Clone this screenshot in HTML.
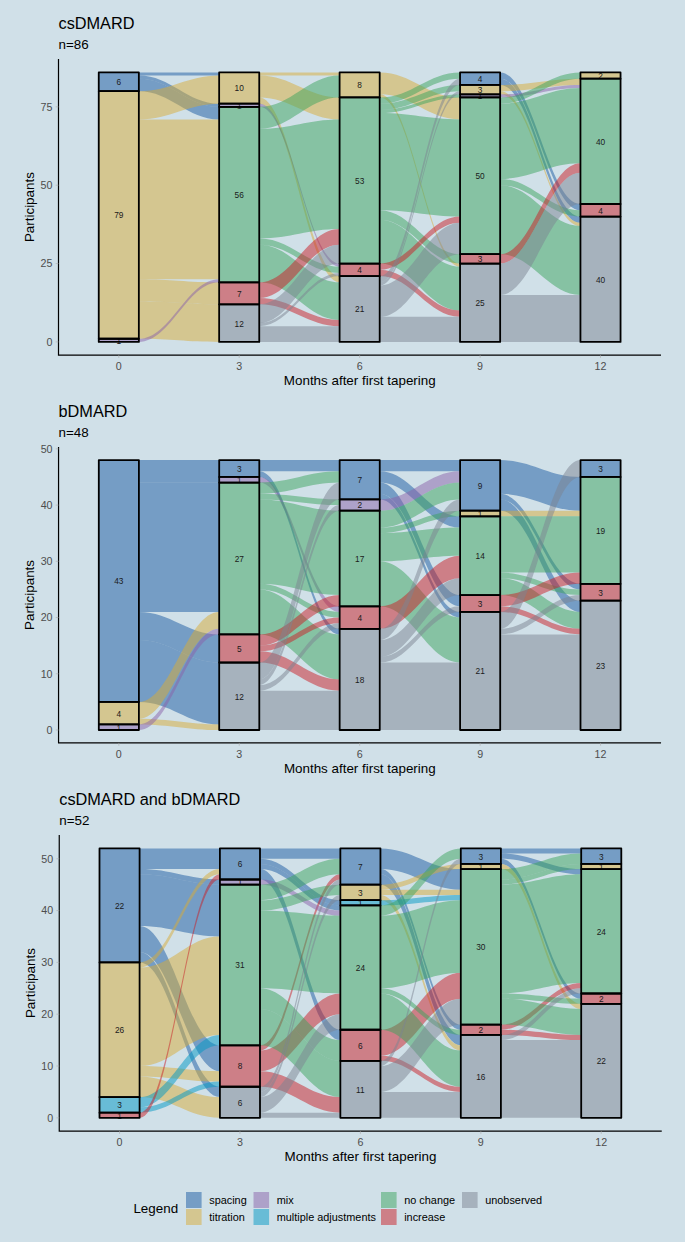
<!DOCTYPE html>
<html><head><meta charset="utf-8"><title>Alluvial</title>
<style>html,body{margin:0;padding:0;background:#d0e0e8;}body{width:685px;height:1242px;overflow:hidden;font-family:"Liberation Sans",sans-serif;}svg{display:block;}</style>
</head><body>
<svg width="685" height="1242" viewBox="0 0 685 1242">
<rect width="685" height="1242" fill="#d0e0e8"/>
<g fill-opacity="0.5"><path fill="#1a5aa2" d="M138.85,72.38C170.97,72.38 187.03,72.38 219.15,72.38L219.15,75.51C187.03,75.51 170.97,75.51 138.85,75.51Z"/><path fill="#1a5aa2" d="M138.85,75.51C170.97,75.51 187.03,103.72 219.15,103.72L219.15,106.85C187.03,106.85 170.97,78.64 138.85,78.64Z"/><path fill="#1a5aa2" d="M138.85,78.64C170.97,78.64 187.03,106.85 219.15,106.85L219.15,119.39C187.03,119.39 170.97,91.18 138.85,91.18Z"/><path fill="#d8ac38" d="M138.85,91.18C170.97,91.18 187.03,75.51 219.15,75.51L219.15,103.72C187.03,103.72 170.97,119.39 138.85,119.39Z"/><path fill="#d8ac38" d="M138.85,119.39C170.97,119.39 187.03,119.39 219.15,119.39L219.15,279.22C187.03,279.22 170.97,279.22 138.85,279.22Z"/><path fill="#d8ac38" d="M138.85,279.22C170.97,279.22 187.03,282.35 219.15,282.35L219.15,304.29C187.03,304.29 170.97,301.16 138.85,301.16Z"/><path fill="#d8ac38" d="M138.85,301.16C170.97,301.16 187.03,304.29 219.15,304.29L219.15,341.9C187.03,341.9 170.97,338.77 138.85,338.77Z"/><path fill="#8a62aa" d="M138.85,338.77C170.97,338.77 187.03,279.22 219.15,279.22L219.15,282.35C187.03,282.35 170.97,341.9 138.85,341.9Z"/><path fill="#d8ac38" d="M259.25,72.38C291.39,72.38 307.46,72.38 339.6,72.38L339.6,75.51C307.46,75.51 291.39,75.51 259.25,75.51Z"/><path fill="#d8ac38" d="M259.25,75.51C291.39,75.51 307.46,97.45 339.6,97.45L339.6,119.39C307.46,119.39 291.39,97.45 259.25,97.45Z"/><path fill="#d8ac38" d="M259.25,97.45C291.39,97.45 307.46,276.09 339.6,276.09L339.6,282.35C307.46,282.35 291.39,103.72 259.25,103.72Z"/><path fill="#8a62aa" d="M259.25,103.72C291.39,103.72 307.46,263.55 339.6,263.55L339.6,266.68C307.46,266.68 291.39,106.85 259.25,106.85Z"/><path fill="#3ca45e" d="M259.25,106.85C291.39,106.85 307.46,75.51 339.6,75.51L339.6,97.45C307.46,97.45 291.39,128.79 259.25,128.79Z"/><path fill="#3ca45e" d="M259.25,128.79C291.39,128.79 307.46,119.39 339.6,119.39L339.6,229.08C307.46,229.08 291.39,238.48 259.25,238.48Z"/><path fill="#3ca45e" d="M259.25,238.48C291.39,238.48 307.46,266.68 339.6,266.68L339.6,272.95C307.46,272.95 291.39,244.75 259.25,244.75Z"/><path fill="#3ca45e" d="M259.25,244.75C291.39,244.75 307.46,282.35 339.6,282.35L339.6,319.96C307.46,319.96 291.39,282.35 259.25,282.35Z"/><path fill="#ca1e26" d="M259.25,282.35C291.39,282.35 307.46,229.08 339.6,229.08L339.6,244.75C307.46,244.75 291.39,298.02 259.25,298.02Z"/><path fill="#ca1e26" d="M259.25,298.02C291.39,298.02 307.46,319.96 339.6,319.96L339.6,326.23C307.46,326.23 291.39,304.29 259.25,304.29Z"/><path fill="#7c8492" d="M259.25,304.29C291.39,304.29 307.46,244.75 339.6,244.75L339.6,263.55C307.46,263.55 291.39,323.1 259.25,323.1Z"/><path fill="#7c8492" d="M259.25,323.1C291.39,323.1 307.46,272.95 339.6,272.95L339.6,276.09C307.46,276.09 291.39,326.23 259.25,326.23Z"/><path fill="#7c8492" d="M259.25,326.23C291.39,326.23 307.46,326.23 339.6,326.23L339.6,341.9C307.46,341.9 291.39,341.9 259.25,341.9Z"/><path fill="#d8ac38" d="M379.7,72.38C411.84,72.38 427.91,97.45 460.05,97.45L460.05,119.39C427.91,119.39 411.84,94.31 379.7,94.31Z"/><path fill="#d8ac38" d="M379.7,94.31C411.84,94.31 427.91,263.55 460.05,263.55L460.05,266.68C427.91,266.68 411.84,97.45 379.7,97.45Z"/><path fill="#3ca45e" d="M379.7,97.45C411.84,97.45 427.91,72.38 460.05,72.38L460.05,78.64C427.91,78.64 411.84,103.72 379.7,103.72Z"/><path fill="#3ca45e" d="M379.7,103.72C411.84,103.72 427.91,84.91 460.05,84.91L460.05,91.18C427.91,91.18 411.84,109.98 379.7,109.98Z"/><path fill="#3ca45e" d="M379.7,109.98C411.84,109.98 427.91,94.31 460.05,94.31L460.05,97.45C427.91,97.45 411.84,113.12 379.7,113.12Z"/><path fill="#3ca45e" d="M379.7,113.12C411.84,113.12 427.91,119.39 460.05,119.39L460.05,216.54C427.91,216.54 411.84,210.27 379.7,210.27Z"/><path fill="#3ca45e" d="M379.7,210.27C411.84,210.27 427.91,254.15 460.05,254.15L460.05,263.55C427.91,263.55 411.84,219.67 379.7,219.67Z"/><path fill="#3ca45e" d="M379.7,219.67C411.84,219.67 427.91,266.68 460.05,266.68L460.05,310.56C427.91,310.56 411.84,263.55 379.7,263.55Z"/><path fill="#ca1e26" d="M379.7,263.55C411.84,263.55 427.91,216.54 460.05,216.54L460.05,222.81C427.91,222.81 411.84,269.82 379.7,269.82Z"/><path fill="#ca1e26" d="M379.7,269.82C411.84,269.82 427.91,310.56 460.05,310.56L460.05,316.83C427.91,316.83 411.84,276.09 379.7,276.09Z"/><path fill="#7c8492" d="M379.7,276.09C411.84,276.09 427.91,78.64 460.05,78.64L460.05,84.91C427.91,84.91 411.84,282.35 379.7,282.35Z"/><path fill="#7c8492" d="M379.7,282.35C411.84,282.35 427.91,91.18 460.05,91.18L460.05,94.31C427.91,94.31 411.84,285.49 379.7,285.49Z"/><path fill="#7c8492" d="M379.7,285.49C411.84,285.49 427.91,222.81 460.05,222.81L460.05,254.15C427.91,254.15 411.84,316.83 379.7,316.83Z"/><path fill="#7c8492" d="M379.7,316.83C411.84,316.83 427.91,316.83 460.05,316.83L460.05,341.9C427.91,341.9 411.84,341.9 379.7,341.9Z"/><path fill="#1a5aa2" d="M500.15,72.38C532.27,72.38 548.33,204 580.45,204L580.45,210.27C548.33,210.27 532.27,78.64 500.15,78.64Z"/><path fill="#1a5aa2" d="M500.15,78.64C532.27,78.64 548.33,216.54 580.45,216.54L580.45,222.81C548.33,222.81 532.27,84.91 500.15,84.91Z"/><path fill="#d8ac38" d="M500.15,84.91C532.27,84.91 548.33,78.64 580.45,78.64L580.45,84.91C548.33,84.91 532.27,91.18 500.15,91.18Z"/><path fill="#d8ac38" d="M500.15,91.18C532.27,91.18 548.33,222.81 580.45,222.81L580.45,225.94C548.33,225.94 532.27,94.31 500.15,94.31Z"/><path fill="#8a62aa" d="M500.15,94.31C532.27,94.31 548.33,84.91 580.45,84.91L580.45,88.05C548.33,88.05 532.27,97.45 500.15,97.45Z"/><path fill="#3ca45e" d="M500.15,97.45C532.27,97.45 548.33,72.38 580.45,72.38L580.45,78.64C548.33,78.64 532.27,103.72 500.15,103.72Z"/><path fill="#3ca45e" d="M500.15,103.72C532.27,103.72 548.33,88.05 580.45,88.05L580.45,163.26C548.33,163.26 532.27,178.93 500.15,178.93Z"/><path fill="#3ca45e" d="M500.15,178.93C532.27,178.93 548.33,210.27 580.45,210.27L580.45,216.54C548.33,216.54 532.27,185.2 500.15,185.2Z"/><path fill="#3ca45e" d="M500.15,185.2C532.27,185.2 548.33,225.94 580.45,225.94L580.45,294.89C548.33,294.89 532.27,254.15 500.15,254.15Z"/><path fill="#ca1e26" d="M500.15,254.15C532.27,254.15 548.33,163.26 580.45,163.26L580.45,172.66C548.33,172.66 532.27,263.55 500.15,263.55Z"/><path fill="#7c8492" d="M500.15,263.55C532.27,263.55 548.33,172.66 580.45,172.66L580.45,204C548.33,204 532.27,294.89 500.15,294.89Z"/><path fill="#7c8492" d="M500.15,294.89C532.27,294.89 548.33,294.89 580.45,294.89L580.45,341.9C548.33,341.9 532.27,341.9 500.15,341.9Z"/></g>
<defs><clipPath id="c0_0_M"><rect x="98.75" y="338.77" width="40.1" height="5.13"/></clipPath><clipPath id="c0_1_M"><rect x="219.15" y="103.72" width="40.1" height="5.13"/></clipPath><clipPath id="c0_3_M"><rect x="460.05" y="94.31" width="40.1" height="5.13"/></clipPath></defs>
<g><rect x="98.75" y="72.38" width="40.1" height="18.8" fill="#759dc5"/><rect x="98.75" y="91.18" width="40.1" height="247.59" fill="#d4c690"/><rect x="98.75" y="338.77" width="40.1" height="3.13" fill="#ada1c9"/><rect x="219.15" y="72.38" width="40.1" height="31.34" fill="#d4c690"/><rect x="219.15" y="103.72" width="40.1" height="3.13" fill="#ada1c9"/><rect x="219.15" y="106.85" width="40.1" height="175.5" fill="#86c2a3"/><rect x="219.15" y="282.35" width="40.1" height="21.94" fill="#cd7f87"/><rect x="219.15" y="304.29" width="40.1" height="37.61" fill="#a6b2bd"/><rect x="339.6" y="72.38" width="40.1" height="25.07" fill="#d4c690"/><rect x="339.6" y="97.45" width="40.1" height="166.1" fill="#86c2a3"/><rect x="339.6" y="263.55" width="40.1" height="12.54" fill="#cd7f87"/><rect x="339.6" y="276.09" width="40.1" height="65.81" fill="#a6b2bd"/><rect x="460.05" y="72.38" width="40.1" height="12.54" fill="#759dc5"/><rect x="460.05" y="84.91" width="40.1" height="9.4" fill="#d4c690"/><rect x="460.05" y="94.31" width="40.1" height="3.13" fill="#ada1c9"/><rect x="460.05" y="97.45" width="40.1" height="156.7" fill="#86c2a3"/><rect x="460.05" y="254.15" width="40.1" height="9.4" fill="#cd7f87"/><rect x="460.05" y="263.55" width="40.1" height="78.35" fill="#a6b2bd"/><rect x="580.45" y="72.38" width="40.1" height="6.27" fill="#d4c690"/><rect x="580.45" y="78.64" width="40.1" height="125.36" fill="#86c2a3"/><rect x="580.45" y="204" width="40.1" height="12.54" fill="#cd7f87"/><rect x="580.45" y="216.54" width="40.1" height="125.36" fill="#a6b2bd"/></g>
<g font-family="Liberation Sans, sans-serif" font-size="8.3" fill="#1a1a1a" text-anchor="middle"><text x="118.8" y="85.18">6</text><text x="118.8" y="218.37">79</text><text x="118.8" y="343.73" clip-path="url(#c0_0_M)">1</text><text x="239.2" y="91.45">10</text><text x="239.2" y="108.68" clip-path="url(#c0_1_M)">1</text><text x="239.2" y="198">56</text><text x="239.2" y="296.72">7</text><text x="239.2" y="326.5">12</text><text x="359.65" y="88.31">8</text><text x="359.65" y="183.9">53</text><text x="359.65" y="273.22">4</text><text x="359.65" y="312.39">21</text><text x="480.1" y="82.04">4</text><text x="480.1" y="93.01">3</text><text x="480.1" y="99.28" clip-path="url(#c0_3_M)">1</text><text x="480.1" y="179.2">50</text><text x="480.1" y="262.25">3</text><text x="480.1" y="306.12">25</text><text x="600.5" y="78.91">2</text><text x="600.5" y="144.72">40</text><text x="600.5" y="213.67">4</text><text x="600.5" y="282.62">40</text></g>
<g stroke="#000" stroke-width="1.8" stroke-linejoin="round" fill="none"><rect x="98.75" y="72.38" width="40.1" height="18.8"/><rect x="98.75" y="91.18" width="40.1" height="247.59"/><rect x="98.75" y="338.77" width="40.1" height="3.13"/><rect x="219.15" y="72.38" width="40.1" height="31.34"/><rect x="219.15" y="103.72" width="40.1" height="3.13"/><rect x="219.15" y="106.85" width="40.1" height="175.5"/><rect x="219.15" y="282.35" width="40.1" height="21.94"/><rect x="219.15" y="304.29" width="40.1" height="37.61"/><rect x="339.6" y="72.38" width="40.1" height="25.07"/><rect x="339.6" y="97.45" width="40.1" height="166.1"/><rect x="339.6" y="263.55" width="40.1" height="12.54"/><rect x="339.6" y="276.09" width="40.1" height="65.81"/><rect x="460.05" y="72.38" width="40.1" height="12.54"/><rect x="460.05" y="84.91" width="40.1" height="9.4"/><rect x="460.05" y="94.31" width="40.1" height="3.13"/><rect x="460.05" y="97.45" width="40.1" height="156.7"/><rect x="460.05" y="254.15" width="40.1" height="9.4"/><rect x="460.05" y="263.55" width="40.1" height="78.35"/><rect x="580.45" y="72.38" width="40.1" height="6.27"/><rect x="580.45" y="78.64" width="40.1" height="125.36"/><rect x="580.45" y="204" width="40.1" height="12.54"/><rect x="580.45" y="216.54" width="40.1" height="125.36"/></g>
<path d="M58.5,59.1V355.1H661" fill="none" stroke="#000" stroke-width="1.2"/>
<path d="M55.7,341.9H58.5M55.7,263.55H58.5M55.7,185.2H58.5M55.7,106.85H58.5M118.8,355.1V357.9M239.2,355.1V357.9M359.65,355.1V357.9M480.1,355.1V357.9M600.5,355.1V357.9" stroke="#aaa" stroke-width="0.6"/>
<g font-family="Liberation Sans, sans-serif" font-size="10.7" fill="#4d4d4d"><text x="52.5" y="345.8" text-anchor="end">0</text><text x="52.5" y="267.45" text-anchor="end">25</text><text x="52.5" y="189.1" text-anchor="end">50</text><text x="52.5" y="110.75" text-anchor="end">75</text><text x="118.8" y="369.9" text-anchor="middle">0</text><text x="239.2" y="369.9" text-anchor="middle">3</text><text x="359.65" y="369.9" text-anchor="middle">6</text><text x="480.1" y="369.9" text-anchor="middle">9</text><text x="600.5" y="369.9" text-anchor="middle">12</text></g>
<text font-family="Liberation Sans, sans-serif" font-size="13.4" fill="#000" x="359.75" y="384.7" text-anchor="middle">Months after first tapering</text>
<text font-family="Liberation Sans, sans-serif" font-size="13.4" fill="#000" transform="translate(34,207.1) rotate(-90)" text-anchor="middle">Participants</text>
<text font-family="Liberation Sans, sans-serif" font-size="16.3" fill="#000" x="58.5" y="29">csDMARD</text>
<text font-family="Liberation Sans, sans-serif" font-size="13.4" fill="#000" x="58.5" y="49.4">n=86</text>
<g fill-opacity="0.5"><path fill="#1a5aa2" d="M138.9,460.1C171.02,460.1 187.08,460.1 219.2,460.1L219.2,476.97C187.08,476.97 171.02,476.97 138.9,476.97Z"/><path fill="#1a5aa2" d="M138.9,476.97C171.02,476.97 187.08,476.97 219.2,476.97L219.2,482.59C187.08,482.59 171.02,482.59 138.9,482.59Z"/><path fill="#1a5aa2" d="M138.9,482.59C171.02,482.59 187.08,482.59 219.2,482.59L219.2,611.92C187.08,611.92 171.02,611.92 138.9,611.92Z"/><path fill="#1a5aa2" d="M138.9,611.92C171.02,611.92 187.08,634.41 219.2,634.41L219.2,662.52C187.08,662.52 171.02,640.03 138.9,640.03Z"/><path fill="#1a5aa2" d="M138.9,640.03C171.02,640.03 187.08,662.52 219.2,662.52L219.2,724.38C187.08,724.38 171.02,701.88 138.9,701.88Z"/><path fill="#d8ac38" d="M138.9,701.88C171.02,701.88 187.08,611.92 219.2,611.92L219.2,628.79C187.08,628.79 171.02,718.75 138.9,718.75Z"/><path fill="#d8ac38" d="M138.9,718.75C171.02,718.75 187.08,724.38 219.2,724.38L219.2,730C187.08,730 171.02,724.38 138.9,724.38Z"/><path fill="#8a62aa" d="M138.9,724.38C171.02,724.38 187.08,628.79 219.2,628.79L219.2,634.41C187.08,634.41 171.02,730 138.9,730Z"/><path fill="#1a5aa2" d="M259.3,460.1C291.44,460.1 307.51,460.1 339.65,460.1L339.65,471.34C307.51,471.34 291.44,471.34 259.3,471.34Z"/><path fill="#1a5aa2" d="M259.3,471.34C291.44,471.34 307.51,628.79 339.65,628.79L339.65,634.41C307.51,634.41 291.44,476.97 259.3,476.97Z"/><path fill="#8a62aa" d="M259.3,476.97C291.44,476.97 307.51,606.29 339.65,606.29L339.65,611.92C307.51,611.92 291.44,482.59 259.3,482.59Z"/><path fill="#3ca45e" d="M259.3,482.59C291.44,482.59 307.51,471.34 339.65,471.34L339.65,482.59C307.51,482.59 291.44,493.83 259.3,493.83Z"/><path fill="#3ca45e" d="M259.3,493.83C291.44,493.83 307.51,499.46 339.65,499.46L339.65,505.08C307.51,505.08 291.44,499.46 259.3,499.46Z"/><path fill="#3ca45e" d="M259.3,499.46C291.44,499.46 307.51,510.7 339.65,510.7L339.65,595.05C307.51,595.05 291.44,583.8 259.3,583.8Z"/><path fill="#3ca45e" d="M259.3,583.8C291.44,583.8 307.51,611.92 339.65,611.92L339.65,617.54C307.51,617.54 291.44,589.42 259.3,589.42Z"/><path fill="#3ca45e" d="M259.3,589.42C291.44,589.42 307.51,634.41 339.65,634.41L339.65,679.39C307.51,679.39 291.44,634.41 259.3,634.41Z"/><path fill="#ca1e26" d="M259.3,634.41C291.44,634.41 307.51,595.05 339.65,595.05L339.65,606.29C307.51,606.29 291.44,645.65 259.3,645.65Z"/><path fill="#ca1e26" d="M259.3,645.65C291.44,645.65 307.51,617.54 339.65,617.54L339.65,623.16C307.51,623.16 291.44,651.28 259.3,651.28Z"/><path fill="#ca1e26" d="M259.3,651.28C291.44,651.28 307.51,679.39 339.65,679.39L339.65,690.64C307.51,690.64 291.44,662.52 259.3,662.52Z"/><path fill="#7c8492" d="M259.3,662.52C291.44,662.52 307.51,482.59 339.65,482.59L339.65,499.46C307.51,499.46 291.44,679.39 259.3,679.39Z"/><path fill="#7c8492" d="M259.3,679.39C291.44,679.39 307.51,505.08 339.65,505.08L339.65,510.7C307.51,510.7 291.44,685.02 259.3,685.02Z"/><path fill="#7c8492" d="M259.3,685.02C291.44,685.02 307.51,623.16 339.65,623.16L339.65,628.79C307.51,628.79 291.44,690.64 259.3,690.64Z"/><path fill="#7c8492" d="M259.3,690.64C291.44,690.64 307.51,690.64 339.65,690.64L339.65,730C307.51,730 291.44,730 259.3,730Z"/><path fill="#1a5aa2" d="M379.75,460.1C411.89,460.1 427.96,460.1 460.1,460.1L460.1,471.34C427.96,471.34 411.89,471.34 379.75,471.34Z"/><path fill="#1a5aa2" d="M379.75,471.34C411.89,471.34 427.96,516.33 460.1,516.33L460.1,527.57C427.96,527.57 411.89,482.59 379.75,482.59Z"/><path fill="#1a5aa2" d="M379.75,482.59C411.89,482.59 427.96,595.05 460.1,595.05L460.1,606.29C427.96,606.29 411.89,493.83 379.75,493.83Z"/><path fill="#1a5aa2" d="M379.75,493.83C411.89,493.83 427.96,611.92 460.1,611.92L460.1,617.54C427.96,617.54 411.89,499.46 379.75,499.46Z"/><path fill="#8a62aa" d="M379.75,499.46C411.89,499.46 427.96,471.34 460.1,471.34L460.1,482.59C427.96,482.59 411.89,510.7 379.75,510.7Z"/><path fill="#3ca45e" d="M379.75,510.7C411.89,510.7 427.96,482.59 460.1,482.59L460.1,499.46C427.96,499.46 411.89,527.57 379.75,527.57Z"/><path fill="#3ca45e" d="M379.75,527.57C411.89,527.57 427.96,510.7 460.1,510.7L460.1,516.33C427.96,516.33 411.89,533.19 379.75,533.19Z"/><path fill="#3ca45e" d="M379.75,533.19C411.89,533.19 427.96,527.57 460.1,527.57L460.1,555.69C427.96,555.69 411.89,561.31 379.75,561.31Z"/><path fill="#3ca45e" d="M379.75,561.31C411.89,561.31 427.96,617.54 460.1,617.54L460.1,662.52C427.96,662.52 411.89,606.29 379.75,606.29Z"/><path fill="#ca1e26" d="M379.75,606.29C411.89,606.29 427.96,555.69 460.1,555.69L460.1,578.18C427.96,578.18 411.89,628.79 379.75,628.79Z"/><path fill="#7c8492" d="M379.75,628.79C411.89,628.79 427.96,499.46 460.1,499.46L460.1,510.7C427.96,510.7 411.89,640.03 379.75,640.03Z"/><path fill="#7c8492" d="M379.75,640.03C411.89,640.03 427.96,578.18 460.1,578.18L460.1,595.05C427.96,595.05 411.89,656.9 379.75,656.9Z"/><path fill="#7c8492" d="M379.75,656.9C411.89,656.9 427.96,606.29 460.1,606.29L460.1,611.92C427.96,611.92 411.89,662.52 379.75,662.52Z"/><path fill="#7c8492" d="M379.75,662.52C411.89,662.52 427.96,662.52 460.1,662.52L460.1,730C427.96,730 411.89,730 379.75,730Z"/><path fill="#1a5aa2" d="M500.2,460.1C532.32,460.1 548.38,476.97 580.5,476.97L580.5,510.7C548.38,510.7 532.32,493.83 500.2,493.83Z"/><path fill="#1a5aa2" d="M500.2,493.83C532.32,493.83 548.38,583.8 580.5,583.8L580.5,589.42C548.38,589.42 532.32,499.46 500.2,499.46Z"/><path fill="#1a5aa2" d="M500.2,499.46C532.32,499.46 548.38,600.67 580.5,600.67L580.5,611.92C548.38,611.92 532.32,510.7 500.2,510.7Z"/><path fill="#d8ac38" d="M500.2,510.7C532.32,510.7 548.38,510.7 580.5,510.7L580.5,516.33C548.38,516.33 532.32,516.33 500.2,516.33Z"/><path fill="#3ca45e" d="M500.2,516.33C532.32,516.33 548.38,516.33 580.5,516.33L580.5,572.56C548.38,572.56 532.32,572.56 500.2,572.56Z"/><path fill="#3ca45e" d="M500.2,572.56C532.32,572.56 548.38,589.42 580.5,589.42L580.5,595.05C548.38,595.05 532.32,578.18 500.2,578.18Z"/><path fill="#3ca45e" d="M500.2,578.18C532.32,578.18 548.38,611.92 580.5,611.92L580.5,628.79C548.38,628.79 532.32,595.05 500.2,595.05Z"/><path fill="#ca1e26" d="M500.2,595.05C532.32,595.05 548.38,572.56 580.5,572.56L580.5,583.8C548.38,583.8 532.32,606.29 500.2,606.29Z"/><path fill="#ca1e26" d="M500.2,606.29C532.32,606.29 548.38,628.79 580.5,628.79L580.5,634.41C548.38,634.41 532.32,611.92 500.2,611.92Z"/><path fill="#7c8492" d="M500.2,611.92C532.32,611.92 548.38,460.1 580.5,460.1L580.5,476.97C548.38,476.97 532.32,628.79 500.2,628.79Z"/><path fill="#7c8492" d="M500.2,628.79C532.32,628.79 548.38,595.05 580.5,595.05L580.5,600.67C548.38,600.67 532.32,634.41 500.2,634.41Z"/><path fill="#7c8492" d="M500.2,634.41C532.32,634.41 548.38,634.41 580.5,634.41L580.5,730C548.38,730 532.32,730 500.2,730Z"/></g>
<defs><clipPath id="c1_0_M"><rect x="98.8" y="724.38" width="40.1" height="7.62"/></clipPath><clipPath id="c1_1_M"><rect x="219.2" y="476.97" width="40.1" height="7.62"/></clipPath><clipPath id="c1_3_T"><rect x="460.1" y="510.7" width="40.1" height="7.62"/></clipPath></defs>
<g><rect x="98.8" y="460.1" width="40.1" height="241.79" fill="#759dc5"/><rect x="98.8" y="701.88" width="40.1" height="22.49" fill="#d4c690"/><rect x="98.8" y="724.38" width="40.1" height="5.62" fill="#ada1c9"/><rect x="219.2" y="460.1" width="40.1" height="16.87" fill="#759dc5"/><rect x="219.2" y="476.97" width="40.1" height="5.62" fill="#ada1c9"/><rect x="219.2" y="482.59" width="40.1" height="151.82" fill="#86c2a3"/><rect x="219.2" y="634.41" width="40.1" height="28.12" fill="#cd7f87"/><rect x="219.2" y="662.52" width="40.1" height="67.48" fill="#a6b2bd"/><rect x="339.65" y="460.1" width="40.1" height="39.36" fill="#759dc5"/><rect x="339.65" y="499.46" width="40.1" height="11.25" fill="#ada1c9"/><rect x="339.65" y="510.7" width="40.1" height="95.59" fill="#86c2a3"/><rect x="339.65" y="606.29" width="40.1" height="22.49" fill="#cd7f87"/><rect x="339.65" y="628.79" width="40.1" height="101.21" fill="#a6b2bd"/><rect x="460.1" y="460.1" width="40.1" height="50.61" fill="#759dc5"/><rect x="460.1" y="510.7" width="40.1" height="5.62" fill="#d4c690"/><rect x="460.1" y="516.33" width="40.1" height="78.72" fill="#86c2a3"/><rect x="460.1" y="595.05" width="40.1" height="16.87" fill="#cd7f87"/><rect x="460.1" y="611.92" width="40.1" height="118.08" fill="#a6b2bd"/><rect x="580.5" y="460.1" width="40.1" height="16.87" fill="#759dc5"/><rect x="580.5" y="476.97" width="40.1" height="106.84" fill="#86c2a3"/><rect x="580.5" y="583.8" width="40.1" height="16.87" fill="#cd7f87"/><rect x="580.5" y="600.67" width="40.1" height="129.33" fill="#a6b2bd"/></g>
<g font-family="Liberation Sans, sans-serif" font-size="8.3" fill="#1a1a1a" text-anchor="middle"><text x="118.85" y="584.39">43</text><text x="118.85" y="716.53">4</text><text x="118.85" y="730.59" clip-path="url(#c1_0_M)">1</text><text x="239.25" y="471.93">3</text><text x="239.25" y="483.18" clip-path="url(#c1_1_M)">1</text><text x="239.25" y="561.9">27</text><text x="239.25" y="651.87">5</text><text x="239.25" y="699.66">12</text><text x="359.7" y="483.18">7</text><text x="359.7" y="508.48">2</text><text x="359.7" y="561.9">17</text><text x="359.7" y="620.94">4</text><text x="359.7" y="682.79">18</text><text x="480.15" y="488.8">9</text><text x="480.15" y="516.91" clip-path="url(#c1_3_T)">1</text><text x="480.15" y="559.09">14</text><text x="480.15" y="606.88">3</text><text x="480.15" y="674.36">21</text><text x="600.55" y="471.93">3</text><text x="600.55" y="533.78">19</text><text x="600.55" y="595.64">3</text><text x="600.55" y="668.74">23</text></g>
<g stroke="#000" stroke-width="1.8" stroke-linejoin="round" fill="none"><rect x="98.8" y="460.1" width="40.1" height="241.79"/><rect x="98.8" y="701.88" width="40.1" height="22.49"/><rect x="98.8" y="724.38" width="40.1" height="5.62"/><rect x="219.2" y="460.1" width="40.1" height="16.87"/><rect x="219.2" y="476.97" width="40.1" height="5.62"/><rect x="219.2" y="482.59" width="40.1" height="151.82"/><rect x="219.2" y="634.41" width="40.1" height="28.12"/><rect x="219.2" y="662.52" width="40.1" height="67.48"/><rect x="339.65" y="460.1" width="40.1" height="39.36"/><rect x="339.65" y="499.46" width="40.1" height="11.25"/><rect x="339.65" y="510.7" width="40.1" height="95.59"/><rect x="339.65" y="606.29" width="40.1" height="22.49"/><rect x="339.65" y="628.79" width="40.1" height="101.21"/><rect x="460.1" y="460.1" width="40.1" height="50.61"/><rect x="460.1" y="510.7" width="40.1" height="5.62"/><rect x="460.1" y="516.33" width="40.1" height="78.72"/><rect x="460.1" y="595.05" width="40.1" height="16.87"/><rect x="460.1" y="611.92" width="40.1" height="118.08"/><rect x="580.5" y="460.1" width="40.1" height="16.87"/><rect x="580.5" y="476.97" width="40.1" height="106.84"/><rect x="580.5" y="583.8" width="40.1" height="16.87"/><rect x="580.5" y="600.67" width="40.1" height="129.33"/></g>
<path d="M58.55,447V742.9H661.05" fill="none" stroke="#000" stroke-width="1.2"/>
<path d="M55.75,730H58.55M55.75,673.77H58.55M55.75,617.54H58.55M55.75,561.31H58.55M55.75,505.08H58.55M55.75,448.85H58.55M118.85,742.9V745.7M239.25,742.9V745.7M359.7,742.9V745.7M480.15,742.9V745.7M600.55,742.9V745.7" stroke="#aaa" stroke-width="0.6"/>
<g font-family="Liberation Sans, sans-serif" font-size="10.7" fill="#4d4d4d"><text x="52.55" y="733.9" text-anchor="end">0</text><text x="52.55" y="677.67" text-anchor="end">10</text><text x="52.55" y="621.44" text-anchor="end">20</text><text x="52.55" y="565.21" text-anchor="end">30</text><text x="52.55" y="508.98" text-anchor="end">40</text><text x="52.55" y="452.75" text-anchor="end">50</text><text x="118.85" y="757.7" text-anchor="middle">0</text><text x="239.25" y="757.7" text-anchor="middle">3</text><text x="359.7" y="757.7" text-anchor="middle">6</text><text x="480.15" y="757.7" text-anchor="middle">9</text><text x="600.55" y="757.7" text-anchor="middle">12</text></g>
<text font-family="Liberation Sans, sans-serif" font-size="13.4" fill="#000" x="359.8" y="772.6" text-anchor="middle">Months after first tapering</text>
<text font-family="Liberation Sans, sans-serif" font-size="13.4" fill="#000" transform="translate(34.05,594.95) rotate(-90)" text-anchor="middle">Participants</text>
<text font-family="Liberation Sans, sans-serif" font-size="16.3" fill="#000" x="58.55" y="416.9">bDMARD</text>
<text font-family="Liberation Sans, sans-serif" font-size="13.4" fill="#000" x="58.55" y="437.3">n=48</text>
<g fill-opacity="0.5"><path fill="#1a5aa2" d="M139.6,848.39C171.72,848.39 187.78,848.39 219.9,848.39L219.9,869.11C187.78,869.11 171.72,869.11 139.6,869.11Z"/><path fill="#1a5aa2" d="M139.6,869.11C171.72,869.11 187.78,879.48 219.9,879.48L219.9,884.66C187.78,884.66 171.72,874.3 139.6,874.3Z"/><path fill="#1a5aa2" d="M139.6,874.3C171.72,874.3 187.78,884.66 219.9,884.66L219.9,936.48C187.78,936.48 171.72,926.12 139.6,926.12Z"/><path fill="#1a5aa2" d="M139.6,926.12C171.72,926.12 187.78,1045.3 219.9,1045.3L219.9,1071.21C187.78,1071.21 171.72,952.03 139.6,952.03Z"/><path fill="#1a5aa2" d="M139.6,952.03C171.72,952.03 187.78,1086.76 219.9,1086.76L219.9,1097.12C187.78,1097.12 171.72,962.39 139.6,962.39Z"/><path fill="#d8ac38" d="M139.6,962.39C171.72,962.39 187.78,869.11 219.9,869.11L219.9,874.3C187.78,874.3 171.72,967.57 139.6,967.57Z"/><path fill="#d8ac38" d="M139.6,967.57C171.72,967.57 187.78,936.48 219.9,936.48L219.9,1034.94C187.78,1034.94 171.72,1066.03 139.6,1066.03Z"/><path fill="#d8ac38" d="M139.6,1066.03C171.72,1066.03 187.78,1071.21 219.9,1071.21L219.9,1081.58C187.78,1081.58 171.72,1076.39 139.6,1076.39Z"/><path fill="#d8ac38" d="M139.6,1076.39C171.72,1076.39 187.78,1097.12 219.9,1097.12L219.9,1117.85C187.78,1117.85 171.72,1097.12 139.6,1097.12Z"/><path fill="#0098c4" d="M139.6,1097.12C171.72,1097.12 187.78,1034.94 219.9,1034.94L219.9,1045.3C187.78,1045.3 171.72,1107.49 139.6,1107.49Z"/><path fill="#0098c4" d="M139.6,1107.49C171.72,1107.49 187.78,1081.58 219.9,1081.58L219.9,1086.76C187.78,1086.76 171.72,1112.67 139.6,1112.67Z"/><path fill="#ca1e26" d="M139.6,1112.67C171.72,1112.67 187.78,874.3 219.9,874.3L219.9,879.48C187.78,879.48 171.72,1117.85 139.6,1117.85Z"/><path fill="#1a5aa2" d="M260,848.39C292.14,848.39 308.21,848.39 340.35,848.39L340.35,858.75C308.21,858.75 292.14,858.75 260,858.75Z"/><path fill="#1a5aa2" d="M260,858.75C292.14,858.75 308.21,900.21 340.35,900.21L340.35,905.39C308.21,905.39 292.14,863.93 260,863.93Z"/><path fill="#1a5aa2" d="M260,863.93C292.14,863.93 308.21,905.39 340.35,905.39L340.35,910.57C308.21,910.57 292.14,869.11 260,869.11Z"/><path fill="#1a5aa2" d="M260,869.11C292.14,869.11 308.21,1029.76 340.35,1029.76L340.35,1040.12C308.21,1040.12 292.14,879.48 260,879.48Z"/><path fill="#ca1e26" d="M260,1045.3C292.14,1045.3 308.21,874.3 340.35,874.3L340.35,879.48C308.21,879.48 292.14,1050.48 260,1050.48Z"/><path fill="#ca1e26" d="M260,1050.48C292.14,1050.48 308.21,993.48 340.35,993.48L340.35,1014.21C308.21,1014.21 292.14,1071.21 260,1071.21Z"/><path fill="#ca1e26" d="M260,1071.21C292.14,1071.21 308.21,1097.12 340.35,1097.12L340.35,1112.67C308.21,1112.67 292.14,1086.76 260,1086.76Z"/><path fill="#8a62aa" d="M260,879.48C292.14,879.48 308.21,910.57 340.35,910.57L340.35,915.75C308.21,915.75 292.14,884.66 260,884.66Z"/><path fill="#3ca45e" d="M260,884.66C292.14,884.66 308.21,858.75 340.35,858.75L340.35,874.3C308.21,874.3 292.14,900.21 260,900.21Z"/><path fill="#3ca45e" d="M260,900.21C292.14,900.21 308.21,884.66 340.35,884.66L340.35,895.02C308.21,895.02 292.14,910.57 260,910.57Z"/><path fill="#3ca45e" d="M260,910.57C292.14,910.57 308.21,915.75 340.35,915.75L340.35,993.48C308.21,993.48 292.14,988.3 260,988.3Z"/><path fill="#3ca45e" d="M260,988.3C292.14,988.3 308.21,1040.12 340.35,1040.12L340.35,1060.85C308.21,1060.85 292.14,1009.03 260,1009.03Z"/><path fill="#3ca45e" d="M260,1009.03C292.14,1009.03 308.21,1060.85 340.35,1060.85L340.35,1097.12C308.21,1097.12 292.14,1045.3 260,1045.3Z"/><path fill="#7c8492" d="M260,1086.76C292.14,1086.76 308.21,879.48 340.35,879.48L340.35,884.66C308.21,884.66 292.14,1091.94 260,1091.94Z"/><path fill="#7c8492" d="M260,1091.94C292.14,1091.94 308.21,895.02 340.35,895.02L340.35,900.21C308.21,900.21 292.14,1097.12 260,1097.12Z"/><path fill="#7c8492" d="M260,1097.12C292.14,1097.12 308.21,1014.21 340.35,1014.21L340.35,1029.76C308.21,1029.76 292.14,1112.67 260,1112.67Z"/><path fill="#7c8492" d="M260,1112.67C292.14,1112.67 308.21,1112.67 340.35,1112.67L340.35,1117.85C308.21,1117.85 292.14,1117.85 260,1117.85Z"/><path fill="#1a5aa2" d="M380.45,848.39C412.59,848.39 428.66,869.11 460.8,869.11L460.8,889.84C428.66,889.84 412.59,869.11 380.45,869.11Z"/><path fill="#1a5aa2" d="M380.45,869.11C412.59,869.11 428.66,1024.57 460.8,1024.57L460.8,1029.76C428.66,1029.76 412.59,874.3 380.45,874.3Z"/><path fill="#1a5aa2" d="M380.45,874.3C412.59,874.3 428.66,1034.94 460.8,1034.94L460.8,1045.3C428.66,1045.3 412.59,884.66 380.45,884.66Z"/><path fill="#d8ac38" d="M380.45,884.66C412.59,884.66 428.66,863.93 460.8,863.93L460.8,869.11C428.66,869.11 412.59,889.84 380.45,889.84Z"/><path fill="#d8ac38" d="M380.45,889.84C412.59,889.84 428.66,889.84 460.8,889.84L460.8,895.02C428.66,895.02 412.59,895.02 380.45,895.02Z"/><path fill="#d8ac38" d="M380.45,895.02C412.59,895.02 428.66,1045.3 460.8,1045.3L460.8,1050.48C428.66,1050.48 412.59,900.21 380.45,900.21Z"/><path fill="#0098c4" d="M380.45,900.21C412.59,900.21 428.66,895.02 460.8,895.02L460.8,900.21C428.66,900.21 412.59,905.39 380.45,905.39Z"/><path fill="#ca1e26" d="M380.45,1029.76C412.59,1029.76 428.66,972.75 460.8,972.75L460.8,998.66C428.66,998.66 412.59,1055.67 380.45,1055.67Z"/><path fill="#ca1e26" d="M380.45,1055.67C412.59,1055.67 428.66,1086.76 460.8,1086.76L460.8,1091.94C428.66,1091.94 412.59,1060.85 380.45,1060.85Z"/><path fill="#3ca45e" d="M380.45,905.39C412.59,905.39 428.66,848.39 460.8,848.39L460.8,858.75C428.66,858.75 412.59,915.75 380.45,915.75Z"/><path fill="#3ca45e" d="M380.45,915.75C412.59,915.75 428.66,900.21 460.8,900.21L460.8,972.75C428.66,972.75 412.59,988.3 380.45,988.3Z"/><path fill="#3ca45e" d="M380.45,988.3C412.59,988.3 428.66,1029.76 460.8,1029.76L460.8,1034.94C428.66,1034.94 412.59,993.48 380.45,993.48Z"/><path fill="#3ca45e" d="M380.45,993.48C412.59,993.48 428.66,1050.48 460.8,1050.48L460.8,1086.76C428.66,1086.76 412.59,1029.76 380.45,1029.76Z"/><path fill="#7c8492" d="M380.45,1060.85C412.59,1060.85 428.66,858.75 460.8,858.75L460.8,863.93C428.66,863.93 412.59,1066.03 380.45,1066.03Z"/><path fill="#7c8492" d="M380.45,1066.03C412.59,1066.03 428.66,998.66 460.8,998.66L460.8,1024.57C428.66,1024.57 412.59,1091.94 380.45,1091.94Z"/><path fill="#7c8492" d="M380.45,1091.94C412.59,1091.94 428.66,1091.94 460.8,1091.94L460.8,1117.85C428.66,1117.85 412.59,1117.85 380.45,1117.85Z"/><path fill="#1a5aa2" d="M500.9,848.39C533.02,848.39 549.08,848.39 581.2,848.39L581.2,853.57C549.08,853.57 533.02,853.57 500.9,853.57Z"/><path fill="#1a5aa2" d="M500.9,853.57C533.02,853.57 549.08,869.11 581.2,869.11L581.2,874.3C549.08,874.3 533.02,858.75 500.9,858.75Z"/><path fill="#1a5aa2" d="M500.9,858.75C533.02,858.75 549.08,993.48 581.2,993.48L581.2,998.66C549.08,998.66 533.02,863.93 500.9,863.93Z"/><path fill="#d8ac38" d="M500.9,863.93C533.02,863.93 549.08,1003.85 581.2,1003.85L581.2,1009.03C549.08,1009.03 533.02,869.11 500.9,869.11Z"/><path fill="#ca1e26" d="M500.9,1024.57C533.02,1024.57 549.08,983.12 581.2,983.12L581.2,988.3C549.08,988.3 533.02,1029.76 500.9,1029.76Z"/><path fill="#ca1e26" d="M500.9,1029.76C533.02,1029.76 549.08,1034.94 581.2,1034.94L581.2,1040.12C549.08,1040.12 533.02,1034.94 500.9,1034.94Z"/><path fill="#3ca45e" d="M500.9,869.11C533.02,869.11 549.08,853.57 581.2,853.57L581.2,863.93C549.08,863.93 533.02,879.48 500.9,879.48Z"/><path fill="#3ca45e" d="M500.9,879.48C533.02,879.48 549.08,863.93 581.2,863.93L581.2,869.11C549.08,869.11 533.02,884.66 500.9,884.66Z"/><path fill="#3ca45e" d="M500.9,884.66C533.02,884.66 549.08,874.3 581.2,874.3L581.2,983.12C549.08,983.12 533.02,993.48 500.9,993.48Z"/><path fill="#3ca45e" d="M500.9,993.48C533.02,993.48 549.08,998.66 581.2,998.66L581.2,1003.85C549.08,1003.85 533.02,998.66 500.9,998.66Z"/><path fill="#3ca45e" d="M500.9,998.66C533.02,998.66 549.08,1009.03 581.2,1009.03L581.2,1034.94C549.08,1034.94 533.02,1024.57 500.9,1024.57Z"/><path fill="#7c8492" d="M500.9,1034.94C533.02,1034.94 549.08,988.3 581.2,988.3L581.2,993.48C549.08,993.48 533.02,1040.12 500.9,1040.12Z"/><path fill="#7c8492" d="M500.9,1040.12C533.02,1040.12 549.08,1040.12 581.2,1040.12L581.2,1117.85C549.08,1117.85 533.02,1117.85 500.9,1117.85Z"/></g>
<defs><clipPath id="c2_0_I"><rect x="99.5" y="1112.67" width="40.1" height="7.18"/></clipPath><clipPath id="c2_1_M"><rect x="219.9" y="879.48" width="40.1" height="7.18"/></clipPath><clipPath id="c2_2_A"><rect x="340.35" y="900.21" width="40.1" height="7.18"/></clipPath><clipPath id="c2_3_T"><rect x="460.8" y="863.93" width="40.1" height="7.18"/></clipPath><clipPath id="c2_4_T"><rect x="581.2" y="863.93" width="40.1" height="7.18"/></clipPath></defs>
<g><rect x="99.5" y="848.39" width="40.1" height="114" fill="#759dc5"/><rect x="99.5" y="962.39" width="40.1" height="134.73" fill="#d4c690"/><rect x="99.5" y="1097.12" width="40.1" height="15.55" fill="#68bcd6"/><rect x="99.5" y="1112.67" width="40.1" height="5.18" fill="#cd7f87"/><rect x="219.9" y="848.39" width="40.1" height="31.09" fill="#759dc5"/><rect x="219.9" y="879.48" width="40.1" height="5.18" fill="#ada1c9"/><rect x="219.9" y="884.66" width="40.1" height="160.64" fill="#86c2a3"/><rect x="219.9" y="1045.3" width="40.1" height="41.46" fill="#cd7f87"/><rect x="219.9" y="1086.76" width="40.1" height="31.09" fill="#a6b2bd"/><rect x="340.35" y="848.39" width="40.1" height="36.27" fill="#759dc5"/><rect x="340.35" y="884.66" width="40.1" height="15.55" fill="#d4c690"/><rect x="340.35" y="900.21" width="40.1" height="5.18" fill="#68bcd6"/><rect x="340.35" y="905.39" width="40.1" height="124.37" fill="#86c2a3"/><rect x="340.35" y="1029.76" width="40.1" height="31.09" fill="#cd7f87"/><rect x="340.35" y="1060.85" width="40.1" height="57" fill="#a6b2bd"/><rect x="460.8" y="848.39" width="40.1" height="15.55" fill="#759dc5"/><rect x="460.8" y="863.93" width="40.1" height="5.18" fill="#d4c690"/><rect x="460.8" y="869.11" width="40.1" height="155.46" fill="#86c2a3"/><rect x="460.8" y="1024.57" width="40.1" height="10.36" fill="#cd7f87"/><rect x="460.8" y="1034.94" width="40.1" height="82.91" fill="#a6b2bd"/><rect x="581.2" y="848.39" width="40.1" height="15.55" fill="#759dc5"/><rect x="581.2" y="863.93" width="40.1" height="5.18" fill="#d4c690"/><rect x="581.2" y="869.11" width="40.1" height="124.37" fill="#86c2a3"/><rect x="581.2" y="993.48" width="40.1" height="10.36" fill="#cd7f87"/><rect x="581.2" y="1003.85" width="40.1" height="114" fill="#a6b2bd"/></g>
<g font-family="Liberation Sans, sans-serif" font-size="8.3" fill="#1a1a1a" text-anchor="middle"><text x="119.55" y="908.79">22</text><text x="119.55" y="1033.16">26</text><text x="119.55" y="1108.3">3</text><text x="119.55" y="1118.66" clip-path="url(#c2_0_I)">1</text><text x="239.95" y="867.33">6</text><text x="239.95" y="885.47" clip-path="url(#c2_1_M)">1</text><text x="239.95" y="968.38">31</text><text x="239.95" y="1069.43">8</text><text x="239.95" y="1105.7">6</text><text x="360.4" y="869.92">7</text><text x="360.4" y="895.83">3</text><text x="360.4" y="906.2" clip-path="url(#c2_2_A)">1</text><text x="360.4" y="970.97">24</text><text x="360.4" y="1048.7">6</text><text x="360.4" y="1092.75">11</text><text x="480.85" y="859.56">3</text><text x="480.85" y="869.92" clip-path="url(#c2_3_T)">1</text><text x="480.85" y="950.24">30</text><text x="480.85" y="1033.16">2</text><text x="480.85" y="1079.79">16</text><text x="601.25" y="859.56">3</text><text x="601.25" y="869.92" clip-path="url(#c2_4_T)">1</text><text x="601.25" y="934.7">24</text><text x="601.25" y="1002.06">2</text><text x="601.25" y="1064.25">22</text></g>
<g stroke="#000" stroke-width="1.8" stroke-linejoin="round" fill="none"><rect x="99.5" y="848.39" width="40.1" height="114"/><rect x="99.5" y="962.39" width="40.1" height="134.73"/><rect x="99.5" y="1097.12" width="40.1" height="15.55"/><rect x="99.5" y="1112.67" width="40.1" height="5.18"/><rect x="219.9" y="848.39" width="40.1" height="31.09"/><rect x="219.9" y="879.48" width="40.1" height="5.18"/><rect x="219.9" y="884.66" width="40.1" height="160.64"/><rect x="219.9" y="1045.3" width="40.1" height="41.46"/><rect x="219.9" y="1086.76" width="40.1" height="31.09"/><rect x="340.35" y="848.39" width="40.1" height="36.27"/><rect x="340.35" y="884.66" width="40.1" height="15.55"/><rect x="340.35" y="900.21" width="40.1" height="5.18"/><rect x="340.35" y="905.39" width="40.1" height="124.37"/><rect x="340.35" y="1029.76" width="40.1" height="31.09"/><rect x="340.35" y="1060.85" width="40.1" height="57"/><rect x="460.8" y="848.39" width="40.1" height="15.55"/><rect x="460.8" y="863.93" width="40.1" height="5.18"/><rect x="460.8" y="869.11" width="40.1" height="155.46"/><rect x="460.8" y="1024.57" width="40.1" height="10.36"/><rect x="460.8" y="1034.94" width="40.1" height="82.91"/><rect x="581.2" y="848.39" width="40.1" height="15.55"/><rect x="581.2" y="863.93" width="40.1" height="5.18"/><rect x="581.2" y="869.11" width="40.1" height="124.37"/><rect x="581.2" y="993.48" width="40.1" height="10.36"/><rect x="581.2" y="1003.85" width="40.1" height="114"/></g>
<path d="M59.25,835.1V1131.1H661.75" fill="none" stroke="#000" stroke-width="1.2"/>
<path d="M56.45,1117.85H59.25M56.45,1066.03H59.25M56.45,1014.21H59.25M56.45,962.39H59.25M56.45,910.57H59.25M56.45,858.75H59.25M119.55,1131.1V1133.9M239.95,1131.1V1133.9M360.4,1131.1V1133.9M480.85,1131.1V1133.9M601.25,1131.1V1133.9" stroke="#aaa" stroke-width="0.6"/>
<g font-family="Liberation Sans, sans-serif" font-size="10.7" fill="#4d4d4d"><text x="53.25" y="1121.75" text-anchor="end">0</text><text x="53.25" y="1069.93" text-anchor="end">10</text><text x="53.25" y="1018.11" text-anchor="end">20</text><text x="53.25" y="966.29" text-anchor="end">30</text><text x="53.25" y="914.47" text-anchor="end">40</text><text x="53.25" y="862.65" text-anchor="end">50</text><text x="119.55" y="1145.9" text-anchor="middle">0</text><text x="239.95" y="1145.9" text-anchor="middle">3</text><text x="360.4" y="1145.9" text-anchor="middle">6</text><text x="480.85" y="1145.9" text-anchor="middle">9</text><text x="601.25" y="1145.9" text-anchor="middle">12</text></g>
<text font-family="Liberation Sans, sans-serif" font-size="13.4" fill="#000" x="360.5" y="1160.7" text-anchor="middle">Months after first tapering</text>
<text font-family="Liberation Sans, sans-serif" font-size="13.4" fill="#000" transform="translate(34.75,983.1) rotate(-90)" text-anchor="middle">Participants</text>
<text font-family="Liberation Sans, sans-serif" font-size="16.3" fill="#000" x="59.25" y="805">csDMARD and bDMARD</text>
<text font-family="Liberation Sans, sans-serif" font-size="13.4" fill="#000" x="59.25" y="825.4">n=52</text>
<text font-family="Liberation Sans, sans-serif" font-size="13.4" fill="#000" x="133.4" y="1212.9">Legend</text>
<rect x="186" y="1192" width="15.6" height="16" fill="#759dc5"/>
<text font-family="Liberation Sans, sans-serif" font-size="10.9" fill="#000" x="209.2" y="1204.2">spacing</text>
<rect x="186" y="1209" width="15.6" height="16" fill="#d4c690"/>
<text font-family="Liberation Sans, sans-serif" font-size="10.9" fill="#000" x="209.2" y="1221.2">titration</text>
<rect x="253.5" y="1192" width="15.6" height="16" fill="#ada1c9"/>
<text font-family="Liberation Sans, sans-serif" font-size="10.9" fill="#000" x="276.7" y="1204.2">mix</text>
<rect x="253.5" y="1209" width="15.6" height="16" fill="#68bcd6"/>
<text font-family="Liberation Sans, sans-serif" font-size="10.9" fill="#000" x="276.7" y="1221.2">multiple adjustments</text>
<rect x="381" y="1192" width="15.6" height="16" fill="#86c2a3"/>
<text font-family="Liberation Sans, sans-serif" font-size="10.9" fill="#000" x="404.2" y="1204.2">no change</text>
<rect x="381" y="1209" width="15.6" height="16" fill="#cd7f87"/>
<text font-family="Liberation Sans, sans-serif" font-size="10.9" fill="#000" x="404.2" y="1221.2">increase</text>
<rect x="462" y="1192" width="15.6" height="16" fill="#a6b2bd"/>
<text font-family="Liberation Sans, sans-serif" font-size="10.9" fill="#000" x="485.2" y="1204.2">unobserved</text>
</svg>
</body></html>
